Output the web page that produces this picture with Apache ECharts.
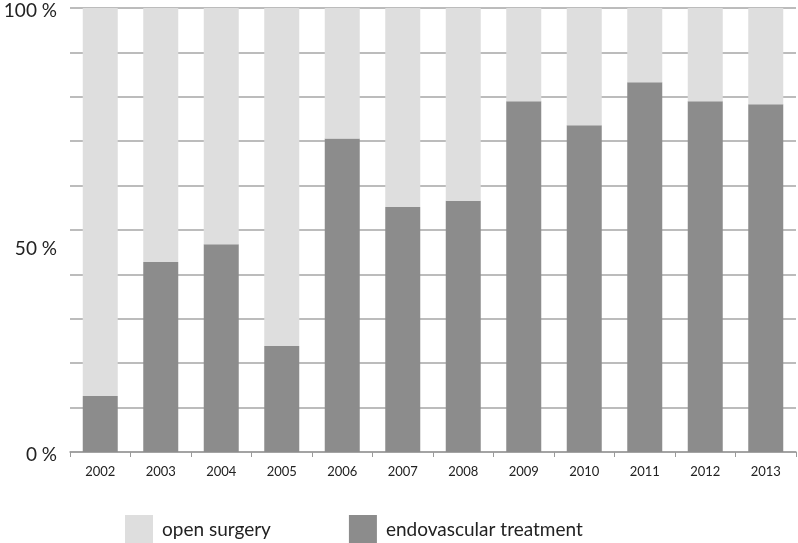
<!DOCTYPE html>
<html>
<head>
<meta charset="utf-8">
<script src="https://cdn.jsdelivr.net/npm/echarts@6/dist/echarts.min.js"></script>
<style>html,body{margin:0;padding:0;background:#fff;}#c{width:798px;height:543px;}</style>
</head>
<body>
<div id="c"></div>
<script>
var years = ['2002','2003','2004','2005','2006','2007','2008','2009','2010','2011','2012','2013'];
var endovascular = [12.6, 42.8, 46.8, 23.9, 70.6, 55.2, 56.6, 79.0, 73.6, 83.3, 79.0, 78.3];
var openSurgery = [87.4, 57.2, 53.2, 76.1, 29.4, 44.8, 43.4, 21.0, 26.4, 16.7, 21.0, 21.7];
var yTickLabels = {0: '0 %', 50: '50 %', 100: '100 %'};

var chart = echarts.init(document.getElementById('c'));
chart.setOption({
  animation: false,
  textStyle: {fontFamily: 'Lato'},
  grid: {left: 70, right: 2, top: 8, bottom: 91, containLabel: false},
  legend: {
    data: ['open surgery', 'endovascular treatment'],
    left: 120, top: 510,
    itemWidth: 28, itemHeight: 30, itemGap: 78,
    icon: 'rect',
    textStyle: {fontSize: 19, color: '#222', fontFamily: 'Lato', padding: [0,0,0,4]}
  },
  xAxis: {
    type: 'category',
    data: years,
    axisLine: {lineStyle: {color: '#9a9a9a', width: 1.5}},
    axisTick: {show: true, length: 5, lineStyle: {color: '#9a9a9a'}},
    axisLabel: {fontSize: 13, color: '#222', margin: 13}
  },
  yAxis: {
    type: 'value',
    min: 0, max: 100, interval: 10,
    axisLine: {show: false},
    axisTick: {show: false},
    splitLine: {lineStyle: {color: '#a6a6a6', width: 1.5}},
    axisLabel: {
      fontSize: 19, color: '#222', margin: 13,
      formatter: function (v) {
        if (v === 50) return '{m|' + yTickLabels[v] + '}';
        if (yTickLabels[v] !== undefined) return '{n|' + yTickLabels[v] + '}';
        return '';
      },
      rich: {
        n: {fontSize: 19, color: '#222', fontFamily: 'Lato', padding: [6, 0, 0, 0]},
        m: {fontSize: 19, color: '#222', fontFamily: 'Lato', padding: [38, 0, 0, 0]}
      }
    }
  },
  series: [
    {
      name: 'endovascular treatment', type: 'bar', stack: 'a',
      data: endovascular, barWidth: 35,
      itemStyle: {color: '#8c8c8c'}
    },
    {
      name: 'open surgery', type: 'bar', stack: 'a',
      data: openSurgery, barWidth: 35,
      itemStyle: {color: '#dedede'}
    }
  ]
});
</script>
</body>
</html>
